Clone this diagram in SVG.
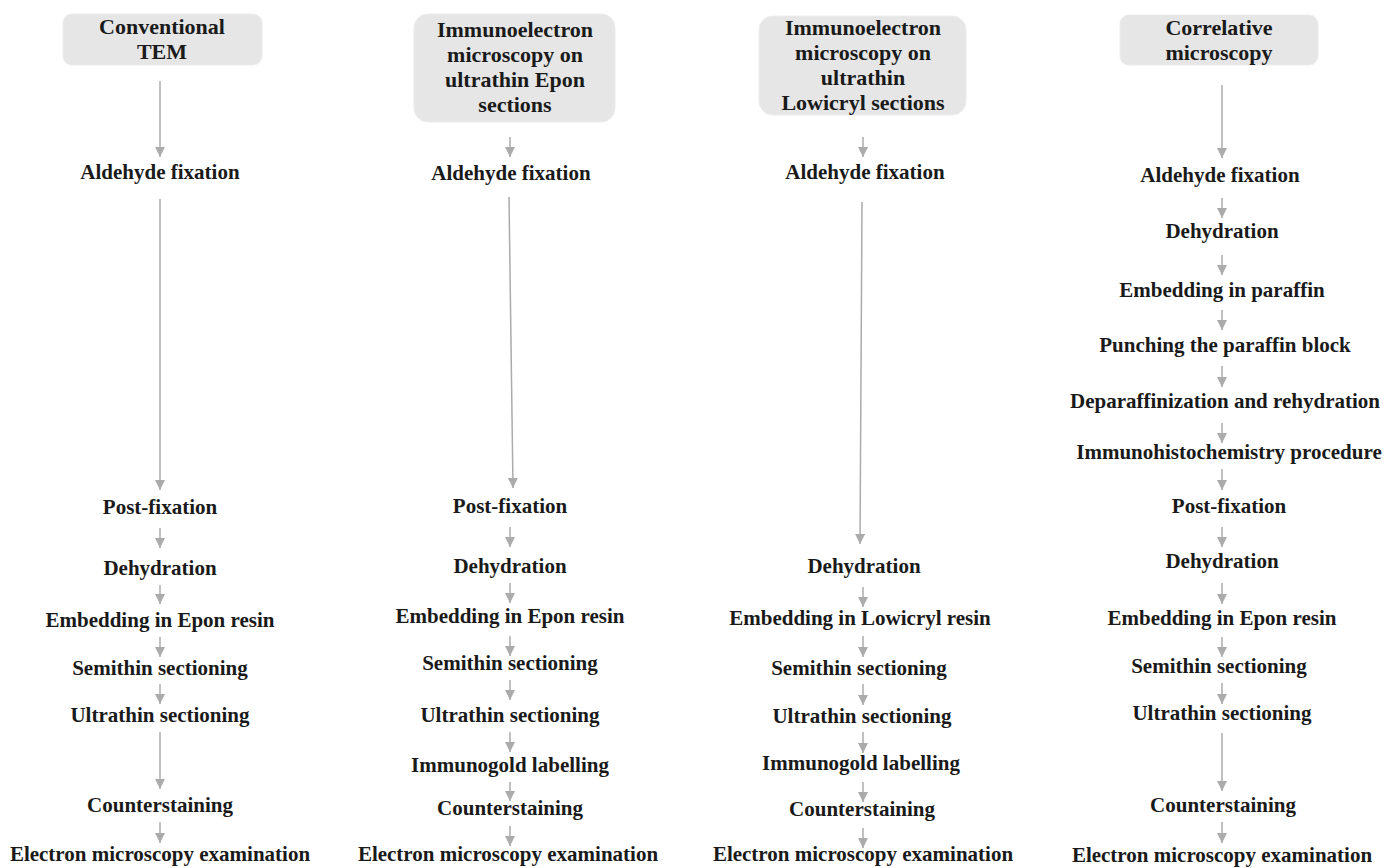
<svg xmlns="http://www.w3.org/2000/svg" width="1395" height="868" viewBox="0 0 1395 868">
<defs>
<style>
text{font-family:"Liberation Serif","Times New Roman",serif;font-weight:bold;font-size:21px;fill:#1a1a1a;text-anchor:middle}
.hdr text{font-size:22px}
.hdr rect{fill:#e6e6e6;stroke:#ececec;stroke-width:1}
.conn line{stroke:#ababab;stroke-width:1.5;fill:none;marker-end:url(#ah)}
</style>
<marker id="ah" viewBox="0 0 10 10" refX="10" refY="5" markerWidth="10" markerHeight="10" markerUnits="userSpaceOnUse" orient="auto">
<path d="M0,0 L10,5 L0,10 Z" fill="#ababab"/>
</marker>
</defs>
<rect width="1395" height="868" fill="#ffffff"/>

<g id="connectors" class="conn">
<!-- column 1 -->
<line x1="160" y1="81" x2="160" y2="157"/>
<line x1="160" y1="199" x2="160" y2="490"/>
<line x1="160" y1="528" x2="160" y2="548"/>
<line x1="160" y1="585" x2="160" y2="604"/>
<line x1="160" y1="637" x2="160" y2="657"/>
<line x1="160" y1="684" x2="160" y2="704"/>
<line x1="160" y1="732" x2="160" y2="789"/>
<line x1="160" y1="822" x2="160" y2="843"/>
<!-- column 2 -->
<line x1="510" y1="137" x2="510" y2="157"/>
<line x1="509" y1="197" x2="513" y2="488"/>
<line x1="510" y1="527" x2="510" y2="547"/>
<line x1="510" y1="583" x2="510" y2="603"/>
<line x1="510" y1="636" x2="510" y2="656"/>
<line x1="510" y1="680" x2="510" y2="700"/>
<line x1="510" y1="732" x2="510" y2="752"/>
<line x1="510" y1="782" x2="510" y2="801"/>
<line x1="510" y1="826" x2="510" y2="846"/>
<!-- column 3 -->
<line x1="863" y1="137" x2="863" y2="157"/>
<line x1="862" y1="202" x2="860" y2="544"/>
<line x1="863" y1="587" x2="863" y2="607"/>
<line x1="863" y1="636" x2="863" y2="657"/>
<line x1="863" y1="684" x2="863" y2="705"/>
<line x1="863" y1="732" x2="863" y2="753"/>
<line x1="863" y1="782" x2="863" y2="802"/>
<line x1="863" y1="828" x2="863" y2="848"/>
<!-- column 4 -->
<line x1="1222" y1="85" x2="1222" y2="158"/>
<line x1="1222" y1="198" x2="1222" y2="218"/>
<line x1="1222" y1="255" x2="1222" y2="275"/>
<line x1="1222" y1="310" x2="1222" y2="330"/>
<line x1="1222" y1="366" x2="1222" y2="387"/>
<line x1="1222" y1="423" x2="1222" y2="443"/>
<line x1="1222" y1="469" x2="1222" y2="490"/>
<line x1="1222" y1="527" x2="1222" y2="547"/>
<line x1="1222" y1="583" x2="1222" y2="604"/>
<line x1="1222" y1="637" x2="1222" y2="657"/>
<line x1="1222" y1="683" x2="1222" y2="704"/>
<line x1="1222" y1="733" x2="1222" y2="791"/>
<line x1="1222" y1="822" x2="1222" y2="843"/>
</g>

<!-- Column 1: Conventional TEM -->
<g id="c1-header" class="hdr"><rect x="63" y="14" width="199" height="51" rx="9"/><text x="162" y="34">Conventional</text><text x="162" y="59">TEM</text></g>
<g id="c1-aldehyde"><text x="160" y="179">Aldehyde fixation</text></g>
<g id="c1-postfix"><text x="160" y="514">Post-fixation</text></g>
<g id="c1-dehyd"><text x="160" y="575">Dehydration</text></g>
<g id="c1-embed"><text x="160" y="627">Embedding in Epon resin</text></g>
<g id="c1-semithin"><text x="160" y="675">Semithin sectioning</text></g>
<g id="c1-ultrathin"><text x="160" y="722">Ultrathin sectioning</text></g>
<g id="c1-counter"><text x="160" y="812">Counterstaining</text></g>
<g id="c1-em"><text x="160" y="861">Electron microscopy examination</text></g>

<!-- Column 2 -->
<g id="c2-header" class="hdr"><rect x="414" y="14" width="201" height="108" rx="14"/><text x="515" y="37">Immunoelectron</text><text x="515" y="62">microscopy on</text><text x="515" y="87">ultrathin  Epon</text><text x="515" y="112">sections</text></g>
<g id="c2-aldehyde"><text x="511" y="180">Aldehyde fixation</text></g>
<g id="c2-postfix"><text x="510" y="513">Post-fixation</text></g>
<g id="c2-dehyd"><text x="510" y="573">Dehydration</text></g>
<g id="c2-embed"><text x="510" y="623">Embedding in Epon resin</text></g>
<g id="c2-semithin"><text x="510" y="670">Semithin sectioning</text></g>
<g id="c2-ultrathin"><text x="510" y="722">Ultrathin sectioning</text></g>
<g id="c2-immunogold"><text x="510" y="772">Immunogold labelling</text></g>
<g id="c2-counter"><text x="510" y="815">Counterstaining</text></g>
<g id="c2-em"><text x="508" y="861">Electron microscopy examination</text></g>

<!-- Column 3 -->
<g id="c3-header" class="hdr"><rect x="759" y="16" width="207" height="99" rx="14"/><text x="863" y="35">Immunoelectron</text><text x="863" y="60">microscopy on</text><text x="863" y="85">ultrathin</text><text x="863" y="110">Lowicryl sections</text></g>
<g id="c3-aldehyde"><text x="865" y="179">Aldehyde fixation</text></g>
<g id="c3-dehyd"><text x="864" y="573">Dehydration</text></g>
<g id="c3-embed"><text x="860" y="625">Embedding in Lowicryl resin</text></g>
<g id="c3-semithin"><text x="859" y="675">Semithin sectioning</text></g>
<g id="c3-ultrathin"><text x="862" y="723">Ultrathin sectioning</text></g>
<g id="c3-immunogold"><text x="861" y="770">Immunogold labelling</text></g>
<g id="c3-counter"><text x="862" y="816">Counterstaining</text></g>
<g id="c3-em"><text x="863" y="861">Electron microscopy examination</text></g>

<!-- Column 4 -->
<g id="c4-header" class="hdr"><rect x="1120" y="15" width="198" height="50" rx="9"/><text x="1219" y="35">Correlative</text><text x="1219" y="60">microscopy</text></g>
<g id="c4-aldehyde"><text x="1220" y="182">Aldehyde fixation</text></g>
<g id="c4-dehyd1"><text x="1222" y="238">Dehydration</text></g>
<g id="c4-paraffin"><text x="1222" y="297">Embedding in paraffin</text></g>
<g id="c4-punch"><text x="1225" y="352">Punching the paraffin block</text></g>
<g id="c4-deparaffin"><text x="1225" y="408">Deparaffinization and rehydration</text></g>
<g id="c4-ihc"><text x="1229" y="459">Immunohistochemistry procedure</text></g>
<g id="c4-postfix"><text x="1229" y="513">Post-fixation</text></g>
<g id="c4-dehyd2"><text x="1222" y="568">Dehydration</text></g>
<g id="c4-embed"><text x="1222" y="625">Embedding in Epon resin</text></g>
<g id="c4-semithin"><text x="1219" y="673">Semithin sectioning</text></g>
<g id="c4-ultrathin"><text x="1222" y="720">Ultrathin sectioning</text></g>
<g id="c4-counter"><text x="1223" y="812">Counterstaining</text></g>
<g id="c4-em"><text x="1222" y="862">Electron microscopy examination</text></g>
</svg>
